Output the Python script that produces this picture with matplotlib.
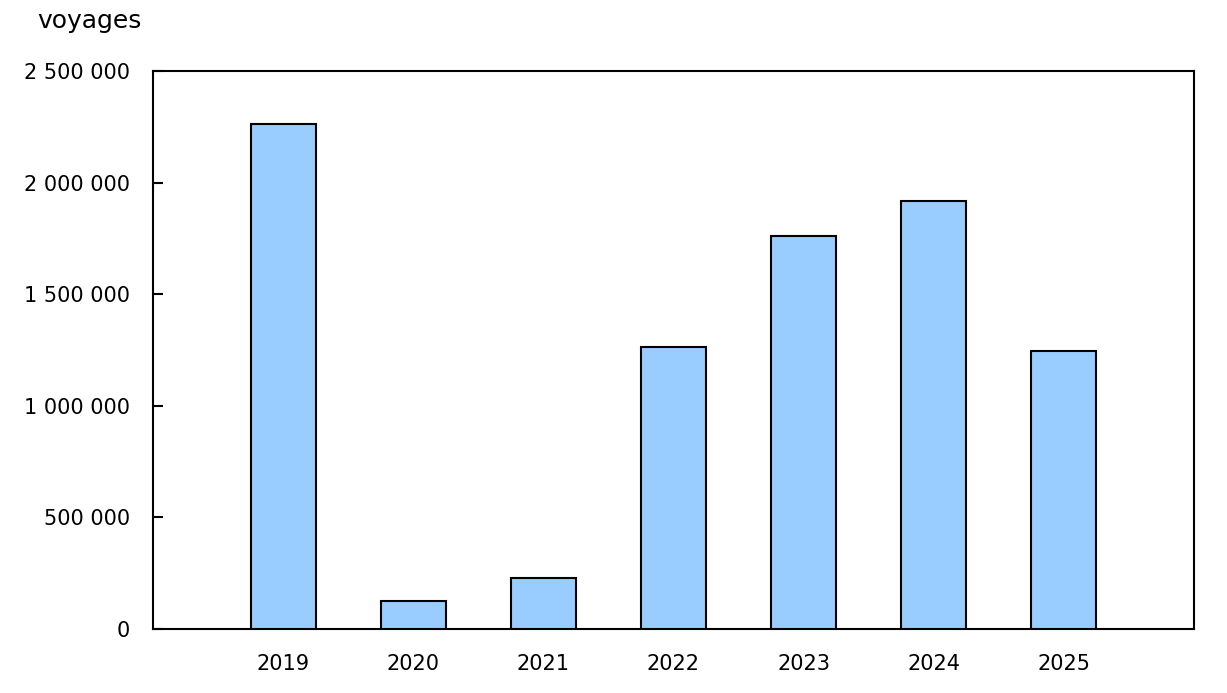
import matplotlib
matplotlib.use("Agg")
import matplotlib.pyplot as plt
from matplotlib.ticker import FuncFormatter

years = ["2019", "2020", "2021", "2022", "2023", "2024", "2025"]
trips = [2263000, 125000, 229000, 1263000, 1761000, 1917000, 1245000]
y_ticks = [0, 500000, 1000000, 1500000, 2000000, 2500000]

plt.rcParams['font.family'] = ['DejaVu Sans']
plt.rcParams['ytick.direction'] = 'in'
fig = plt.figure(figsize=(12.27, 6.93), dpi=100)
ax = fig.add_axes([153/1227, 1-629/693, (1194-153)/1227, (629-71)/693])

pos = list(range(1, len(years) + 1))
ax.bar(pos, trips, width=0.5, color="#99CCFF", edgecolor="black", linewidth=1.5, zorder=3)

ax.set_xlim(0, len(years) + 1)
ax.set_ylim(0, 2500000)
ax.set_xticks(pos)
ax.set_xticklabels(years)
ax.set_yticks(y_ticks)
ax.yaxis.set_major_formatter(FuncFormatter(lambda v, p: f"{int(v):,}".replace(",", " ")))

for s in ax.spines.values():
    s.set_linewidth(1.5)
ax.tick_params(axis='y', which='major', direction='in', length=7.2, width=1.5, labelsize=15, pad=16.5)
ax.tick_params(axis='x', length=0, labelsize=15, pad=18)

fig.text(37/1227, 1-28/693, "voyages", fontsize=18, va='baseline', ha='left')

fig.savefig("out.png", dpi=100)
